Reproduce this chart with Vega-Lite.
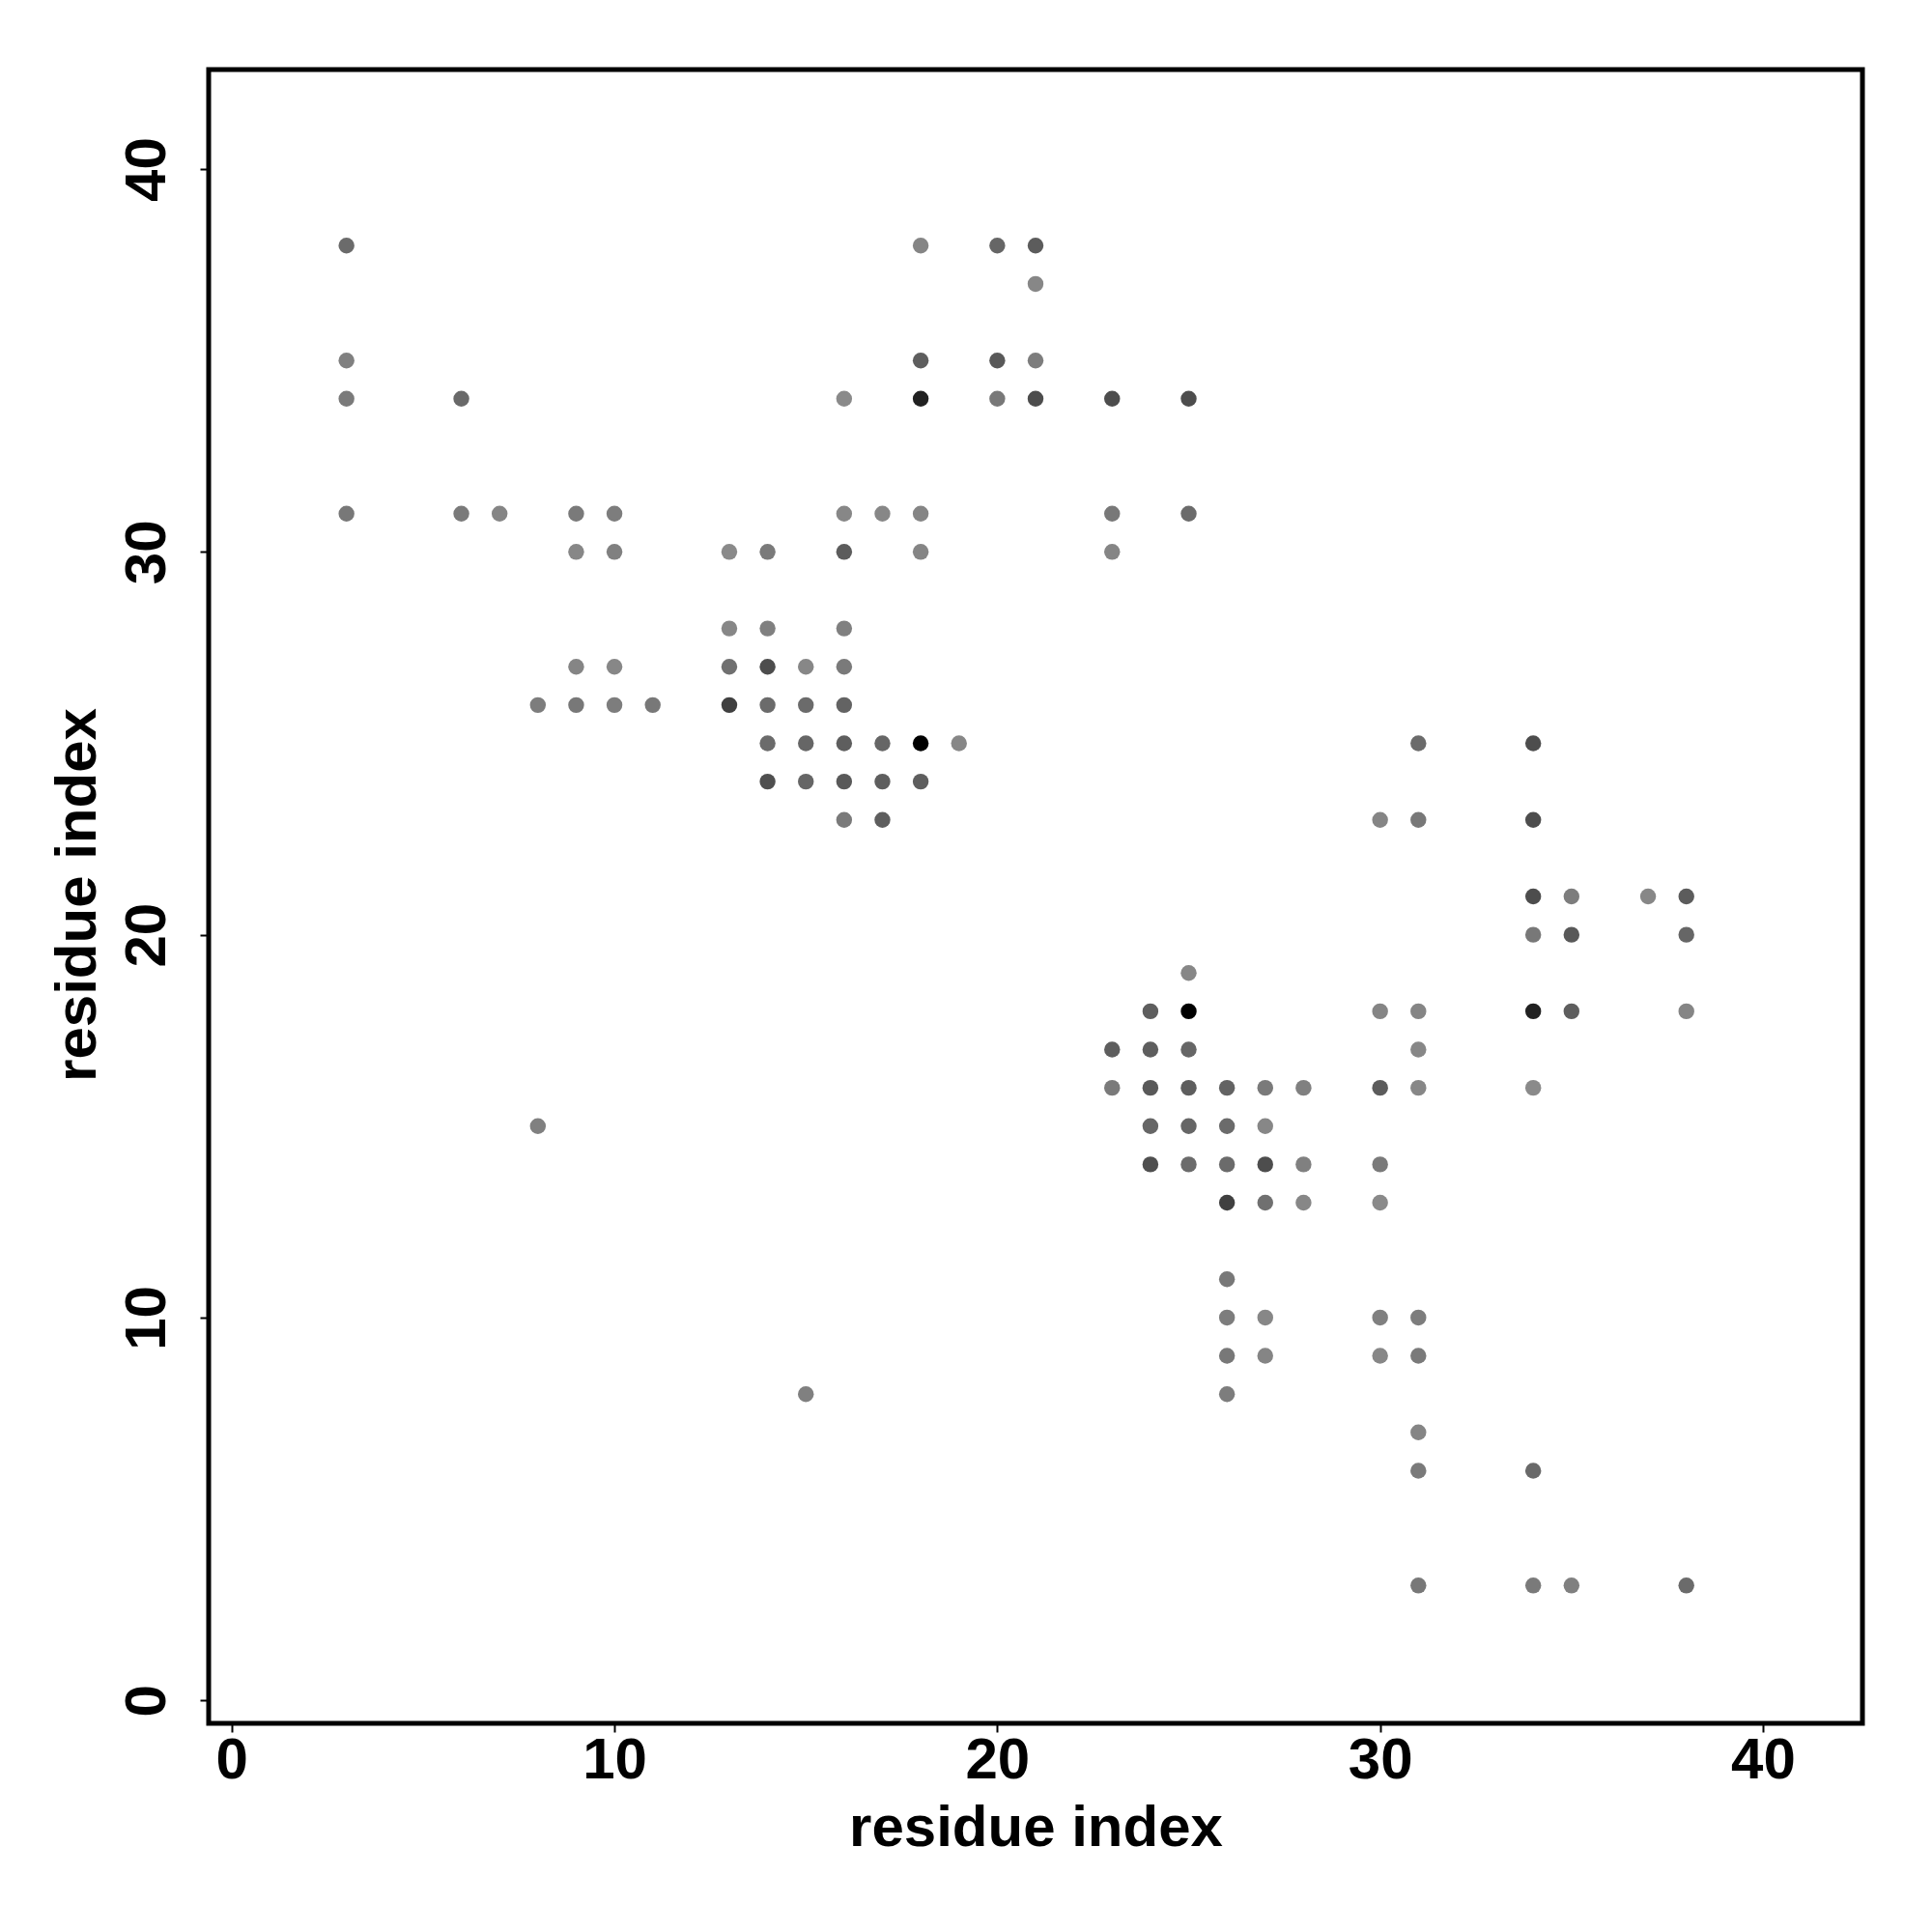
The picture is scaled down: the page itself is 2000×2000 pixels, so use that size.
{
  "$schema": "https://vega.github.io/schema/vega-lite/v6.json",
  "width": 1712,
  "height": 1712,
  "autosize": {"type": "none"},
  "padding": {"left": 216, "top": 72, "right": 72, "bottom": 216},
  "background": "white",
  "data": {"values": [
    {"i":3,"j":38,"p":0.58},{"i":38,"j":3,"p":0.58},
    {"i":3,"j":35,"p":0.50},{"i":35,"j":3,"p":0.50},
    {"i":3,"j":34,"p":0.52},{"i":34,"j":3,"p":0.52},
    {"i":3,"j":31,"p":0.53},{"i":31,"j":3,"p":0.53},
    {"i":6,"j":34,"p":0.59},{"i":34,"j":6,"p":0.59},
    {"i":6,"j":31,"p":0.52},{"i":31,"j":6,"p":0.52},
    {"i":7,"j":31,"p":0.48},{"i":31,"j":7,"p":0.48},
    {"i":8,"j":26,"p":0.51},{"i":26,"j":8,"p":0.51},
    {"i":8,"j":15,"p":0.50},{"i":15,"j":8,"p":0.50},
    {"i":9,"j":31,"p":0.52},{"i":31,"j":9,"p":0.52},
    {"i":9,"j":30,"p":0.47},{"i":30,"j":9,"p":0.47},
    {"i":9,"j":27,"p":0.48},{"i":27,"j":9,"p":0.48},
    {"i":9,"j":26,"p":0.53},{"i":26,"j":9,"p":0.53},
    {"i":10,"j":31,"p":0.51},{"i":31,"j":10,"p":0.51},
    {"i":10,"j":30,"p":0.50},{"i":30,"j":10,"p":0.50},
    {"i":10,"j":27,"p":0.47},{"i":27,"j":10,"p":0.47},
    {"i":10,"j":26,"p":0.51},{"i":26,"j":10,"p":0.51},
    {"i":11,"j":26,"p":0.53},{"i":26,"j":11,"p":0.53},
    {"i":13,"j":30,"p":0.46},{"i":30,"j":13,"p":0.46},
    {"i":13,"j":28,"p":0.47},{"i":28,"j":13,"p":0.47},
    {"i":13,"j":27,"p":0.56},{"i":27,"j":13,"p":0.56},
    {"i":13,"j":26,"p":0.75},{"i":26,"j":13,"p":0.75},
    {"i":14,"j":30,"p":0.52},{"i":30,"j":14,"p":0.52},
    {"i":14,"j":28,"p":0.50},{"i":28,"j":14,"p":0.50},
    {"i":14,"j":27,"p":0.70},{"i":27,"j":14,"p":0.70},
    {"i":14,"j":26,"p":0.58},{"i":26,"j":14,"p":0.58},
    {"i":14,"j":25,"p":0.58},{"i":25,"j":14,"p":0.58},
    {"i":14,"j":24,"p":0.69},{"i":24,"j":14,"p":0.69},
    {"i":15,"j":27,"p":0.47},{"i":27,"j":15,"p":0.47},
    {"i":15,"j":26,"p":0.58},{"i":26,"j":15,"p":0.58},
    {"i":15,"j":25,"p":0.60},{"i":25,"j":15,"p":0.60},
    {"i":15,"j":24,"p":0.60},{"i":24,"j":15,"p":0.60},
    {"i":16,"j":34,"p":0.46},{"i":34,"j":16,"p":0.46},
    {"i":16,"j":31,"p":0.47},{"i":31,"j":16,"p":0.47},
    {"i":16,"j":30,"p":0.64},{"i":30,"j":16,"p":0.64},
    {"i":16,"j":28,"p":0.50},{"i":28,"j":16,"p":0.50},
    {"i":16,"j":27,"p":0.52},{"i":27,"j":16,"p":0.52},
    {"i":16,"j":26,"p":0.61},{"i":26,"j":16,"p":0.61},
    {"i":16,"j":25,"p":0.63},{"i":25,"j":16,"p":0.63},
    {"i":16,"j":24,"p":0.65},{"i":24,"j":16,"p":0.65},
    {"i":16,"j":23,"p":0.52},{"i":23,"j":16,"p":0.52},
    {"i":17,"j":31,"p":0.47},{"i":31,"j":17,"p":0.47},
    {"i":17,"j":25,"p":0.60},{"i":25,"j":17,"p":0.60},
    {"i":17,"j":24,"p":0.63},{"i":24,"j":17,"p":0.63},
    {"i":17,"j":23,"p":0.63},{"i":23,"j":17,"p":0.63},
    {"i":18,"j":38,"p":0.48},{"i":38,"j":18,"p":0.48},
    {"i":18,"j":35,"p":0.63},{"i":35,"j":18,"p":0.63},
    {"i":18,"j":34,"p":0.87},{"i":34,"j":18,"p":0.87},
    {"i":18,"j":31,"p":0.48},{"i":31,"j":18,"p":0.48},
    {"i":18,"j":30,"p":0.48},{"i":30,"j":18,"p":0.48},
    {"i":18,"j":25,"p":1.00},{"i":25,"j":18,"p":1.00},
    {"i":18,"j":24,"p":0.63},{"i":24,"j":18,"p":0.63},
    {"i":19,"j":25,"p":0.47},{"i":25,"j":19,"p":0.47},
    {"i":20,"j":38,"p":0.60},{"i":38,"j":20,"p":0.60},
    {"i":20,"j":35,"p":0.65},{"i":35,"j":20,"p":0.65},
    {"i":20,"j":34,"p":0.53},{"i":34,"j":20,"p":0.53},
    {"i":21,"j":38,"p":0.64},{"i":38,"j":21,"p":0.64},
    {"i":21,"j":37,"p":0.47},{"i":37,"j":21,"p":0.47},
    {"i":21,"j":35,"p":0.51},{"i":35,"j":21,"p":0.51},
    {"i":21,"j":34,"p":0.70},{"i":34,"j":21,"p":0.70},
    {"i":23,"j":34,"p":0.70},{"i":34,"j":23,"p":0.70},
    {"i":23,"j":31,"p":0.53},{"i":31,"j":23,"p":0.53},
    {"i":23,"j":30,"p":0.48},{"i":30,"j":23,"p":0.48},
    {"i":25,"j":34,"p":0.70},{"i":34,"j":25,"p":0.70},
    {"i":25,"j":31,"p":0.58},{"i":31,"j":25,"p":0.58}
  ]},
  "mark": {"type": "circle", "size": 270, "opacity": 1},
  "encoding": {
    "x": {
      "field": "i", "type": "quantitative",
      "scale": {"domain": [-0.6, 42.6], "nice": false, "zero": false},
      "axis": {"title": "residue index", "values": [0, 10, 20, 30, 40], "labelFlush": false, "labelPadding": 0, "titleY": 126, "titleBaseline": "alphabetic"}
    },
    "y": {
      "field": "j", "type": "quantitative",
      "scale": {"domain": [-0.6, 42.6], "nice": false, "zero": false},
      "axis": {"title": "residue index", "values": [0, 10, 20, 30, 40], "labelFlush": false, "labelAngle": -90, "labelAlign": "center", "labelBaseline": "alphabetic", "labelPadding": 37, "titleX": -118, "titleY": 854, "titleAngle": -90, "titleAlign": "center", "titleBaseline": "alphabetic"}
    },
    "color": {
      "field": "p", "type": "quantitative",
      "scale": {"domain": [0, 1], "range": ["#ffffff", "#000000"], "interpolate": "rgb"},
      "legend": null
    }
  },
  "config": {
    "view": {"stroke": "#000000", "strokeWidth": 5},
    "axis": {
      "domain": false, "grid": false,
      "tickColor": "#000000", "tickWidth": 2, "tickSize": 9,
      "labelFont": "Liberation Sans", "labelFontSize": 60, "labelFontWeight": "bold", "labelColor": "#000000",
      "titleFont": "Liberation Sans", "titleFontSize": 60, "titleFontWeight": "bold", "titleColor": "#000000"
    }
  }
}
